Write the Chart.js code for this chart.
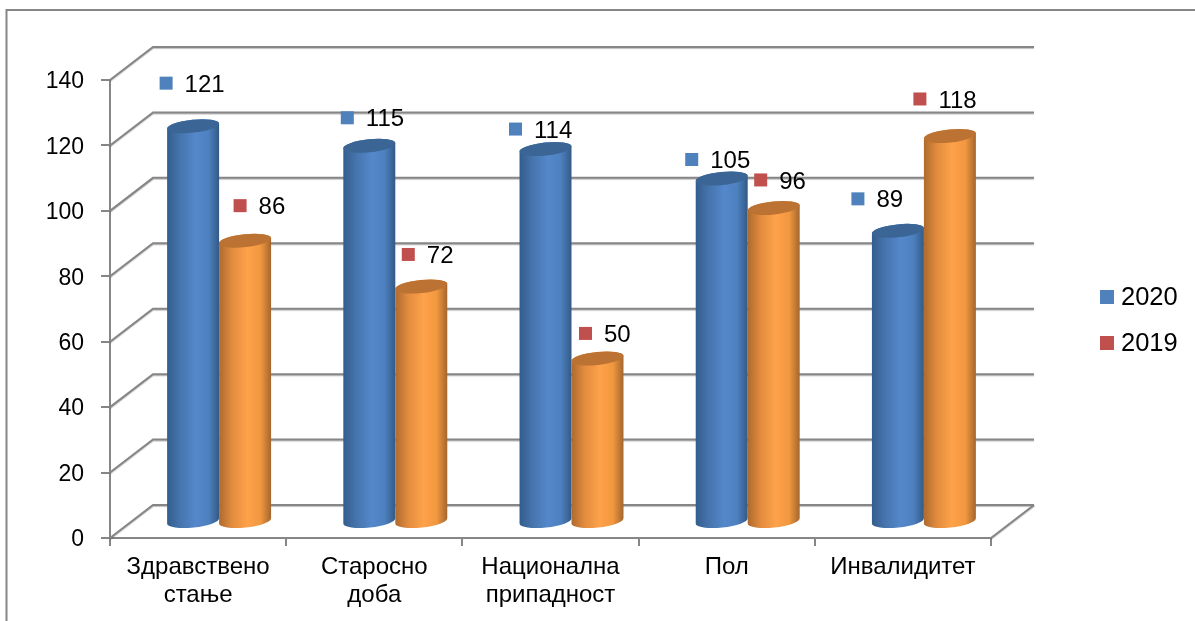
<!DOCTYPE html>
<html>
<head>
<meta charset="utf-8">
<title>Chart</title>
<script src="https://cdn.jsdelivr.net/npm/chart.js@4"></script>
<style>
  html, body { margin: 0; padding: 0; background: #fff; overflow: hidden; }
  canvas { display: block; }
</style>
</head>
<body>
<canvas id="chart" width="1195" height="621"></canvas>
<script>
const categories = [
  ["Здравствено", "стање"],
  ["Старосно", "доба"],
  ["Национална", "припадност"],
  "Пол",
  "Инвалидитет"
];
const values2020 = [121, 115, 114, 105, 89];
const values2019 = [86, 72, 50, 96, 118];

// the data labels were dragged by hand in the original, offsets from the bar top
const labelOffsets2020 = [[-6, -59], [-1, -44], [-9, -36], [-9, -35], [-19, -48]];
const labelOffsets2019 = [[16, -51], [8, -48], [9, -41], [8, -44], [-9, -53]];

const FONT = '"Liberation Sans", Arial, sans-serif';
const GRID = "#868686";
const WALL_X = 43, WALL_Y = -33;   // back wall offset
const BAR_X = 21, BAR_Y = -16;     // bars stand in the middle of the floor
const TILT = -6 * Math.PI / 180;

const shades = {
  blue: ["#335d8d", "#4674ad", "#5488cb", "#4d80bf", "#335a86"],
  orange: ["#ae6a2e", "#e28c3e", "#ffa24a", "#f0973f", "#a4662e"]
};
const capColors = { blue: "#3a6595", orange: "#bb7233" };

function paintCylinder(ctx, el, color) {
  const w = el.width;
  const x = el.x + BAR_X;
  const top = el.y + BAR_Y;
  const base = el.base + BAR_Y;
  const rx = w / 2 / Math.cos(TILT);
  const ry = 6.5;
  const t = w / 2 * Math.tan(-TILT);

  const grad = ctx.createLinearGradient(x - w / 2, 0, x + w / 2, 0);
  [0, 0.25, 0.55, 0.8, 1].forEach((stop, i) => grad.addColorStop(stop, shades[color][i]));

  ctx.save();
  ctx.beginPath();
  ctx.moveTo(x - w / 2, top + t);
  ctx.lineTo(x - w / 2, base + t);
  ctx.ellipse(x, base, rx, ry, TILT, Math.PI, 0, true);
  ctx.lineTo(x + w / 2, top - t);
  ctx.ellipse(x, top, rx, ry, TILT, 0, Math.PI, true);
  ctx.closePath();
  ctx.fillStyle = grad;
  ctx.fill();

  ctx.beginPath();
  ctx.ellipse(x, top, rx, ry, TILT, 0, Math.PI * 2);
  ctx.fillStyle = capColors[color];
  ctx.fill();
  ctx.restore();
}

const scene3d = {
  id: "scene3d",
  beforeDraw(chart) {
    const ctx = chart.ctx;
    ctx.save();
    ctx.fillStyle = "#fff";
    ctx.fillRect(0, 0, chart.width, chart.height);
    // outer frame
    ctx.strokeStyle = GRID;
    ctx.lineWidth = 2;
    ctx.beginPath();
    ctx.moveTo(6.5, chart.height);
    ctx.lineTo(6.5, 10);
    ctx.lineTo(chart.width, 10);
    ctx.stroke();
    ctx.restore();
  },
  beforeDatasetsDraw(chart) {
    const ctx = chart.ctx;
    const yScale = chart.scales.y;
    const { left, right, bottom } = chart.chartArea;
    ctx.save();
    ctx.strokeStyle = GRID;
    ctx.lineWidth = 2;
    ctx.shadowColor = "rgba(0,0,0,0.25)";
    ctx.shadowBlur = 1;
    ctx.shadowOffsetY = 1;
    yScale.ticks.forEach(tick => {
      const y = yScale.getPixelForValue(tick.value);
      ctx.beginPath();
      ctx.moveTo(left, y);
      ctx.lineTo(left + WALL_X, y + WALL_Y);
      ctx.lineTo(right + WALL_X, y + WALL_Y);
      ctx.stroke();
    });
    ctx.beginPath();
    ctx.moveTo(right, bottom);
    ctx.lineTo(right + WALL_X, bottom + WALL_Y);
    ctx.stroke();
    ctx.restore();

    // orange goes over blue, the default draw order is the other way round
    chart.getDatasetMeta(0).data.forEach(el => paintCylinder(ctx, el, "blue"));
    chart.getDatasetMeta(1).data.forEach(el => paintCylinder(ctx, el, "orange"));
  },
  beforeDatasetDraw() {
    return false;
  },
  afterDatasetsDraw(chart) {
    const ctx = chart.ctx;
    ctx.save();
    ctx.textBaseline = "middle";
    ctx.textAlign = "left";
    chart.data.datasets.forEach((ds, i) => {
      const offsets = i === 0 ? labelOffsets2020 : labelOffsets2019;
      ctx.font = "24px " + FONT;
      chart.getDatasetMeta(i).data.forEach((el, j) => {
        const mx = el.x + offsets[j][0];
        const my = el.y + offsets[j][1];
        ctx.fillStyle = ds.backgroundColor;
        ctx.fillRect(mx - 6.5, my - 6.5, 13, 13);
        ctx.fillStyle = "#000";
        ctx.fillText(ds.data[j], mx + 18.5, my + 2);
      });
      // legend
      const ly = 297 + i * 46;
      ctx.fillStyle = ds.backgroundColor;
      ctx.fillRect(1100, ly - 7, 14, 14);
      ctx.fillStyle = "#000";
      ctx.font = "25.5px " + FONT;
      ctx.fillText(ds.label, 1121, ly + 1);
    });
    ctx.restore();
  }
};

new Chart(document.getElementById("chart"), {
  type: "bar",
  data: {
    labels: categories,
    datasets: [
      { label: "2020", data: values2020, backgroundColor: "#4f81bd" },
      { label: "2019", data: values2019, backgroundColor: "#c0504d" }
    ]
  },
  plugins: [scene3d],
  options: {
    responsive: false,
    animation: false,
    layout: { padding: { top: 80, left: 0, right: 204, bottom: 0 } },
    datasets: { bar: { barPercentage: 1, categoryPercentage: 0.59 } },
    plugins: {
      title: { display: false },
      tooltip: { enabled: false },
      legend: { display: false }
    },
    scales: {
      x: {
        grid: { drawOnChartArea: false, color: GRID, lineWidth: 2, tickLength: 8 },
        border: { color: GRID, width: 2 },
        ticks: { color: "#000", padding: 7, maxRotation: 0, font: { family: FONT, size: 24, lineHeight: 1.17 } },
        afterFit(scale) { scale.height = 83; }
      },
      y: {
        min: 0,
        max: 140,
        grid: { drawOnChartArea: false, color: GRID, lineWidth: 2, tickLength: 9 },
        border: { color: GRID, width: 2 },
        ticks: { stepSize: 20, color: "#000", padding: 17, labelOffset: 2, font: { family: FONT, size: 23 } },
        afterFit(scale) { scale.width = 110; }
      }
    }
  }
});
</script>
</body>
</html>
